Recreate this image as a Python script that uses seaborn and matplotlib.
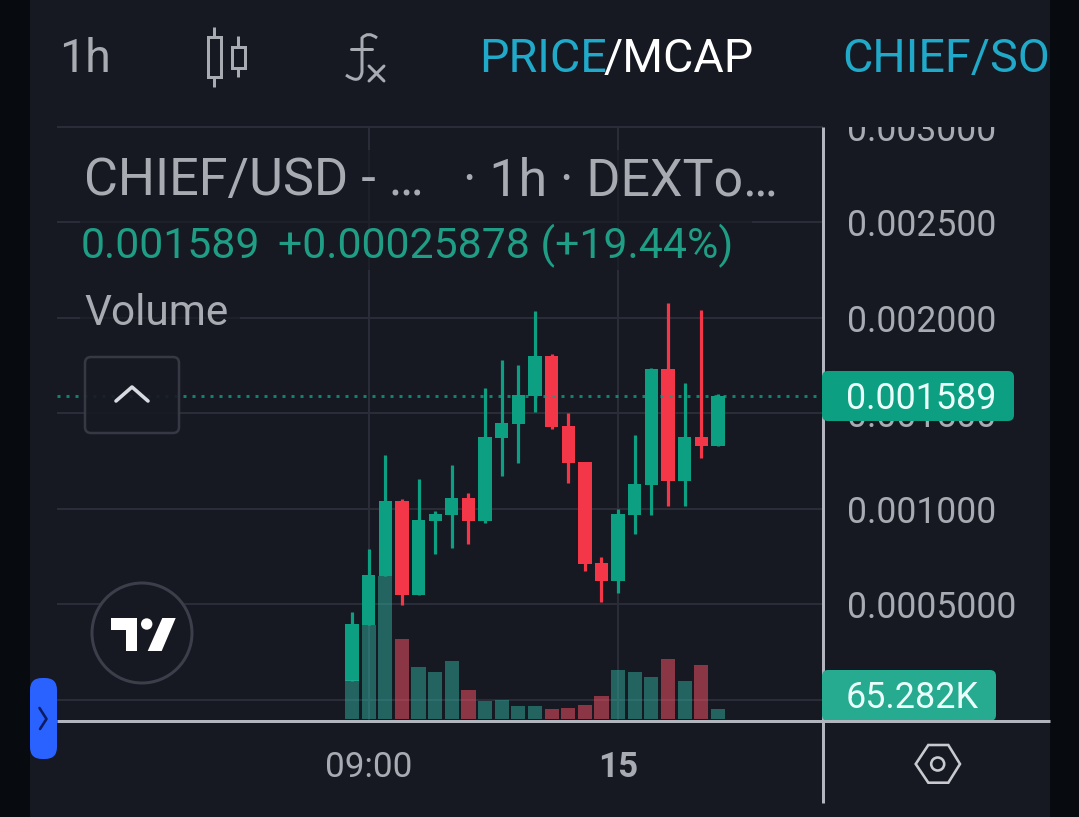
import matplotlib
matplotlib.use("Agg")
import matplotlib.pyplot as plt
import numpy as np
import pandas as pd
import seaborn as sns
from matplotlib.patches import Rectangle, FancyBboxPatch, Circle, Polygon, PathPatch
from matplotlib.path import Path
from matplotlib.transforms import Bbox

# candle values, in millionths of a dollar
hours = list(range(23))
highs = [458, 786, 1280, 1048, 1154, 987, 1228, 1079, 1629, 1777, 1751, 2034,
         1809, 1498, 1243, 744, 996, 1385, 1734, 2074, 1655, 2039, 1598]
lows = [99, 390, 647, 493, 549, 762, 795, 816, 922, 1172, 1240, 1505,
        1414, 1135, 674, 512, 559, 868, 968, 1015, 1013, 1266, 1329]
body_tops = [394, 652, 1039, 1039, 940, 971, 1053, 1053, 1374, 1446, 1592, 1798,
             1798, 1432, 1243, 713, 971, 1128, 1730, 1730, 1374, 1374, 1589]
body_bottoms = [99, 390, 647, 549, 549, 935, 966, 936, 936, 1371, 1444, 1591,
                1427, 1240, 709, 622, 622, 966, 1125, 1144, 1144, 1329, 1329]
directions = ['up', 'up', 'up', 'down', 'up', 'up', 'up', 'down', 'up', 'up', 'up', 'up',
              'down', 'down', 'down', 'down', 'up', 'up', 'up', 'down', 'up', 'down', 'up']
# volume in thousands
volumes = [266, 648, 985, 552, 355, 321, 401, 202, 121, 133, 92, 87,
           71, 78, 94, 160, 339, 325, 286, 415, 259, 373, 65.282]

price_ticks = [0, 500, 1000, 1500, 2000, 2500, 3000]
price_labels = ['', '0.0005000', '0.001000', '0.001500', '0.002000', '0.002500', '0.003000']
time_ticks = [1, 16]
time_labels = ['09:00', '15']
last_price = 1589

BG = '#161822'
STRIP = '#070b0f'
GRID = '#2a2c38'
AXIS = '#b2b5be'
TEXT = '#a9abb3'
GREEN = '#0c9f82'
RED = '#f43748'
LEGEND_GREEN = '#1f9e85'
BLUE = '#20a9c9'
WICK_PX = 3.2
PT = 0.72  # points per pixel at dpi 100

sns.set_theme(style='dark')
plt.rcParams['font.family'] = ['Roboto', 'DejaVu Sans']

fig = plt.figure(figsize=(10.79, 8.17), dpi=100, facecolor=BG)

# price pane, pixels 57-823 across and 126-720 down
pane = [57 / 1079, 1 - 720 / 817, 766 / 1079, 594 / 817]
ax = fig.add_axes(pane, facecolor='none')
ax.set_xlim(-17.74, 28.32)
ax.set_ylim(-107, 3003)

colors = [GREEN if d == 'up' else RED for d in directions]
for h, hi, lo, top, bot, c in zip(hours, highs, lows, body_tops, body_bottoms, colors):
    ax.vlines(h, lo, hi, color=c, linewidth=WICK_PX * PT, zorder=3)
    ax.bar(h, top - bot, bottom=bot, width=0.8, color=c, linewidth=0, zorder=3)

ax.axhline(last_price, color=GREEN, alpha=0.8, linewidth=3 * PT,
           linestyle=(0, (1, 2)), zorder=5)

ax.set_yticks(price_ticks)
ax.set_yticklabels(price_labels)
ax.set_xticks(time_ticks)
ax.set_xticklabels(time_labels)
ax.yaxis.tick_right()
ax.tick_params(axis='y', length=0, pad=17, labelsize=25.6, labelcolor=TEXT)
ax.tick_params(axis='x', length=0, pad=22, labelsize=25.2, labelcolor=TEXT)
ax.get_xticklabels()[1].set_fontweight('bold')
ax.grid(True, color=GRID, linewidth=2 * PT, zorder=0)
ax.set_axisbelow(True)
for s in ax.spines.values():
    s.set_visible(False)

# top price label is cut off by the top of the pane
clip = Bbox([[823, 0], [1050, 817 - 127]])
for lab in ax.get_yticklabels():
    lab.set_clip_box(clip)
    lab.set_clip_on(True)

# volume bars share the pane on their own scale
vol_ax = fig.add_axes(pane, facecolor='none')
vol_df = pd.DataFrame({'hour': hours, 'volume': volumes, 'direction': directions})
sns.barplot(data=vol_df, x='hour', y='volume', hue='direction', dodge=False,
            native_scale=True, palette={'up': '#30b0a0', 'down': '#ff5468'},
            saturation=1, alpha=0.5, width=0.85, linewidth=0, legend=False, ax=vol_ax, zorder=4)
vol_ax.set_xlim(-17.74, 28.32)
vol_ax.set_ylim(-6.9, 593 * 6.87)
vol_ax.set_xticks([])
vol_ax.set_yticks([])
vol_ax.set_xlabel('')
vol_ax.set_ylabel('')
vol_ax.grid(False)
for s in vol_ax.spines.values():
    s.set_visible(False)

# screen furniture in pixel coordinates
ui = fig.add_axes([0, 0, 1, 1], facecolor='none')
ui.set_xlim(0, 1079)
ui.set_ylim(817, 0)
ui.axis('off')

ui.add_patch(Rectangle((0, 0), 30, 817, fc=STRIP, ec='none'))
ui.add_patch(Rectangle((1050, 0), 29, 817, fc=STRIP, ec='none'))

# legend rows sit over the grid
for x0, y0, w, h in [(75, 150, 715, 55), (80, 205, 672, 65), (80, 285, 160, 50)]:
    ui.add_patch(Rectangle((x0, y0), w, h, fc=BG, ec='none', alpha=0.65))

ui.plot([823, 823], [127, 803], color=AXIS, lw=3 * PT, solid_capstyle='butt')
ui.plot([57, 1050], [721, 721], color=AXIS, lw=3 * PT, solid_capstyle='butt', zorder=6)


def tag(x0, y0, w, h, color, label):
    ui.add_patch(FancyBboxPatch((x0 + 5, y0 + 5), w - 10, h - 10, boxstyle='round,pad=5,rounding_size=6',
                                fc=color, ec='none', zorder=5))
    ui.text(846, y0 + h / 2 + 13, label, color='#eafffa', fontsize=25.8, va='baseline', zorder=7)


tag(822, 371, 192, 50, GREEN, '0.001589')
tag(822, 670, 174, 51, '#26ab90', '65.282K')

# header
ui.text(59, 72, '1h', color=TEXT, fontsize=33.5, va='baseline')
ui.text(479, 72, 'PRICE', color=BLUE, fontsize=33.6, va='baseline')
ui.text(604, 72, '/MCAP', color='white', fontsize=33.6, va='baseline')
ui.text(842, 72, 'CHIEF/SO', color=BLUE, fontsize=33.6, va='baseline')

# candle icon
for x, y0, y1, w0, w1 in [(214, 37, 77, 27, 87), (238, 47, 68, 36, 77)]:
    ui.add_patch(Rectangle((x - 6.5, y0), 13, y1 - y0, fc='none', ec=TEXT, lw=3 * PT))
    ui.plot([x, x], [w0, y0], color=TEXT, lw=3 * PT, solid_capstyle='butt')
    ui.plot([x, x], [y1, w1], color=TEXT, lw=3 * PT, solid_capstyle='butt')

# fx icon
f_path = Path([(377, 38), (368, 31), (362, 38), (362, 38), (362, 72), (360, 85), (346, 75)],
              [Path.MOVETO, Path.CURVE3, Path.CURVE3, Path.LINETO, Path.LINETO, Path.CURVE3, Path.CURVE3])
ui.add_patch(PathPatch(f_path, fc='none', ec=TEXT, lw=3 * PT))
ui.plot([351, 372], [49, 49], color=TEXT, lw=3 * PT)
ui.plot([369, 384], [66, 81], color=TEXT, lw=3 * PT)
ui.plot([384, 369], [66, 81], color=TEXT, lw=3 * PT)

# legend
ui.text(84, 195, 'CHIEF/USD - …', color=TEXT, fontsize=37.6, va='baseline')
ui.text(463, 195, '· 1h · DEXTo…', color=TEXT, fontsize=37.4, va='baseline')
ui.text(81, 258, '0.001589', color=LEGEND_GREEN, fontsize=30.8, va='baseline')
ui.text(278, 258, '+0.00025878 (+19.44%)', color=LEGEND_GREEN, fontsize=30.8, va='baseline')
ui.text(84, 325, 'Volume', color=TEXT, fontsize=30.5, va='baseline')

# collapse button
ui.add_patch(FancyBboxPatch((90, 362), 84, 66, boxstyle='round,pad=5,rounding_size=6',
                            fc=BG, ec='#3a3c47', lw=2.5 * PT, alpha=0.9))
ui.plot([116, 132, 148], [401, 387, 401], color='#d8dae2', lw=3.6 * PT, solid_capstyle='round')

# logo
ui.add_patch(Circle((142, 633), 50, fc=BG, ec='#3c3e49', lw=3 * PT, zorder=3))
ui.add_patch(Polygon([(110.7, 618), (137.3, 618), (137.3, 651), (126, 651), (126, 630), (110.7, 630)],
                     fc='white', ec='none', zorder=4))
ui.add_patch(Circle((146.7, 624), 5.7, fc='white', ec='none', zorder=4))
ui.add_patch(Polygon([(162.3, 618), (175.7, 618), (161.7, 651), (147.7, 651)], fc='white', ec='none', zorder=4))

# blue handle
ui.add_patch(FancyBboxPatch((40, 688), 7, 61, boxstyle='round,pad=10,rounding_size=12',
                            fc='#2962ff', ec='none', zorder=7))
ui.plot([39.5, 46.5, 40], [708, 719, 729], color='#0d1b60', lw=2.6 * PT, zorder=8)

# settings hexagon
ui.add_patch(Polygon([(915.7, 764), (928.3, 745), (948.3, 745), (960, 764), (948.3, 782.7), (928.3, 782.7)],
                     fc='none', ec='#c8cad0', lw=2.6 * PT))
ui.add_patch(Circle((937.7, 764), 6.5, fc='none', ec='#c8cad0', lw=2.6 * PT))

fig.savefig('out.png', dpi=100, facecolor=BG)
